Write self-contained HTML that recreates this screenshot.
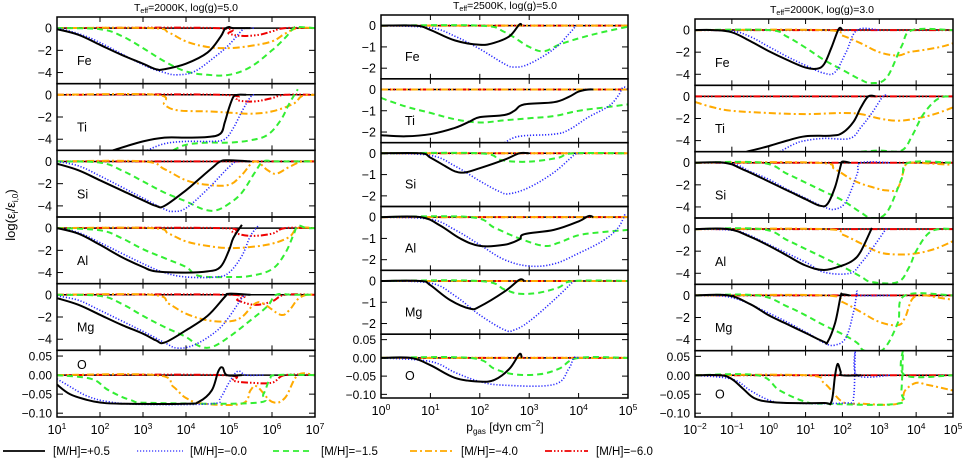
<!DOCTYPE html>
<html><head><meta charset="utf-8"><style>
html,body{margin:0;padding:0;background:#fff}
svg{display:block;font-family:"Liberation Sans",sans-serif}
</style></head><body>
<svg id="chart" width="963" height="458" viewBox="0 0 963 458" xmlns="http://www.w3.org/2000/svg"></svg>
<script>
// ---- data: [log10 p_gas, log(eps/eps0)] ----
const elements = ["Fe","Ti","Si","Al","Mg","O"];
const seriesLabels = ["[M/H]=+0.5","[M/H]=\u22120.0","[M/H]=\u22121.5","[M/H]=\u22124.0","[M/H]=\u22126.0"];
const col1Title = "2000K|5.0", col2Title = "2500K|5.0", col3Title = "2000K|3.0";
const col1XTicks = [1,2,3,4,5,6,7];
const col2XTicks = [0,1,2,3,4,5];
const col3XTicks = [-2,-1,0,1,2,3,4,5];
const yTicksWide = [0,-2,-4];
const yTicksNarrow = [0,-1,-2];
const yTicksO = [0.05,0.00,-0.05,-0.10];

// column 1: Teff=2000K logg=5.0
const c1_Fe_0=[[1,-0.1],[1.5,-0.6],[2,-1.5],[2.5,-2.4],[3,-3.2],[3.3,-3.7],[3.5,-3.7],[4,-3.2],[4.5,-2.2],[4.8,-0.8],[4.9,-0.1],[5,0.1],[5.1,0],[5.5,0]];
const c1_Fe_1=[[1,0],[1.5,-0.5],[2,-1.3],[3,-3.3],[3.5,-4.0],[3.8,-4.2],[4.2,-3.9],[4.7,-2.5],[5,-1.5],[5.3,-0.2],[5.4,0],[5.6,0]];
const c1_Fe_2=[[1,0],[2,-0.1],[2.5,-0.7],[3,-1.8],[3.5,-3.0],[4,-3.9],[4.5,-4.2],[5,-4.2],[5.5,-3.5],[6,-2.0],[6.3,-0.9],[6.5,0],[6.6,0.1],[7,0]];
const c1_Fe_3=[[1,0],[3.2,0],[3.6,-0.4],[4,-1.2],[4.5,-1.7],[5,-1.8],[5.5,-1.6],[6,-1.2],[6.3,-0.5],[6.6,0],[7,0]];
const c1_Fe_4=[[1,0],[4.7,0],[5,-0.5],[5.3,-0.7],[5.7,-0.6],[6,-0.3],[6.3,0],[7,0]];
const c1_Ti_0=[[2.3,-5],[3,-4.2],[3.5,-3.85],[4,-3.85],[4.5,-3.8],[4.8,-3.5],[4.9,-2.5],[5,-1.2],[5.1,-0.2],[5.2,0],[5.4,0]];
const c1_Ti_1=[[3.1,-5],[3.5,-4.4],[4,-4.2],[4.6,-4.2],[4.9,-4.0],[5.1,-3.0],[5.3,-1.5],[5.5,-0.2],[5.6,0]];
const c1_Ti_2=[[3.7,-5],[4,-4.5],[4.5,-4.3],[5,-4.3],[5.5,-4.1],[5.9,-3.6],[6.2,-2.3],[6.4,-0.8],[6.6,0.5]];
const c1_Ti_3=[[1,0],[3.3,0],[3.5,-0.9],[3.8,-1.4],[4.5,-1.5],[5,-1.6],[5.5,-1.7],[6,-1.5],[6.5,-0.8],[6.7,-0.1],[7,0]];
const c1_Ti_4=[[1,0],[4.8,0],[5.2,-0.5],[5.6,-0.6],[6,-0.3],[6.3,0],[7,0]];
const c1_Si_0=[[1,-0.2],[1.5,-0.8],[2,-1.7],[2.5,-2.6],[3,-3.5],[3.3,-4.0],[3.5,-4.0],[4,-2.6],[4.3,-1.6],[4.6,-0.6],[4.8,0],[5,0.1],[5.5,0]];
const c1_Si_1=[[1,0],[1.5,-0.4],[2,-1.3],[3,-3.3],[3.5,-4.3],[3.7,-4.5],[4,-4.2],[4.5,-2.5],[5,-0.5],[5.2,0],[5.5,0]];
const c1_Si_2=[[1,0],[2,-0.1],[2.5,-0.8],[3,-1.8],[3.5,-2.8],[4,-3.6],[4.4,-4.3],[4.7,-4.4],[5,-3.8],[5.3,-2.8],[5.6,-1.0],[5.8,0],[6.1,0],[7,0]];
const c1_Si_3=[[1,0],[3,0],[3.5,-0.7],[4,-1.7],[4.5,-2.1],[5,-2.1],[5.3,-1.2],[5.6,0],[5.9,-0.8],[6.1,-1.1],[6.4,-0.5],[6.7,0],[7,0]];
const c1_Si_4=[[1,0],[7,0]];
const c1_Al_0=[[1,0],[1.5,-0.5],[2,-1.5],[2.5,-2.6],[3,-3.5],[3.3,-3.9],[4,-4.0],[4.5,-3.9],[4.8,-3.5],[5,-2.0],[5.1,-0.9],[5.3,0.3]];
const c1_Al_1=[[1,0],[1.5,-0.4],[2,-1.3],[3,-3.2],[3.5,-4.0],[4,-4.4],[4.7,-4.4],[5,-4.0],[5.3,-2.5],[5.5,-0.7],[5.7,0.3]];
const c1_Al_2=[[1,0],[2,-0.2],[2.5,-0.9],[3,-1.9],[3.5,-2.7],[4,-3.5],[4.3,-4.3],[5,-4.4],[5.5,-4.3],[6,-3.7],[6.3,-2.3],[6.5,-0.6],[6.6,0.2],[6.8,0],[7,0]];
const c1_Al_3=[[1,0],[3.2,0],[3.6,-0.5],[4,-1.2],[4.5,-1.6],[5,-1.8],[5.5,-1.7],[6,-1.4],[6.4,-0.8],[6.6,0],[7,0]];
const c1_Al_4=[[1,0],[4.8,0],[5.1,-0.4],[5.5,-0.7],[6,-0.5],[6.3,0],[7,0]];
const c1_Mg_0=[[1,-0.3],[1.5,-0.9],[2,-1.8],[2.5,-2.7],[3,-3.5],[3.3,-4.1],[3.5,-4.3],[4,-3.2],[4.5,-1.9],[4.9,-0.2],[5,0.1],[5.5,0]];
const c1_Mg_1=[[1,-0.1],[1.5,-0.5],[2,-1.4],[3,-3.3],[3.5,-4.3],[3.8,-4.8],[4.2,-4.5],[4.7,-3.3],[5,-2],[5.3,-0.3],[5.4,0],[5.5,0]];
const c1_Mg_2=[[1,0],[2,-0.1],[2.5,-0.8],[3,-1.9],[3.5,-2.9],[4,-3.8],[4.3,-4.6],[4.6,-4.7],[5,-3.8],[5.5,-2.3],[5.9,-1.0],[6.1,0],[6.5,0],[7,0]];
const c1_Mg_3=[[1,0],[3.2,0],[3.6,-0.8],[4,-1.7],[4.5,-2.3],[5,-2.4],[5.3,-2.0],[5.6,-0.8],[5.8,-0.8],[6.2,-1.8],[6.4,-1.4],[6.6,-0.4],[6.8,0],[7,0]];
const c1_Mg_4=[[1,0],[5,0],[5.2,-0.5],[5.6,-0.9],[6,-0.6],[6.3,0],[7,0]];
const c1_O_0=[[1,-0.025],[1.3,-0.05],[1.7,-0.065],[2,-0.072],[2.5,-0.075],[4,-0.075],[4.3,-0.07],[4.6,-0.04],[4.75,0.01],[4.85,0.02],[4.95,0],[5.3,0]];
const c1_O_1=[[1,-0.01],[1.3,-0.03],[1.7,-0.055],[2.2,-0.07],[3,-0.077],[4.6,-0.075],[4.8,-0.06],[5,-0.02],[5.2,0.01],[5.4,0],[5.8,0]];
const c1_O_2=[[1,0],[1.8,-0.01],[2.2,-0.04],[2.7,-0.065],[3.2,-0.073],[5.6,-0.073],[5.8,-0.05],[5.95,-0.01],[6.1,0],[7,0]];
const c1_O_3=[[1,0],[3.3,0],[3.7,-0.03],[4,-0.06],[4.4,-0.075],[5.3,-0.075],[5.5,-0.04],[5.65,-0.03],[6,-0.07],[6.3,-0.06],[6.6,0],[7,0]];
const c1_O_4=[[1,0],[4.8,0],[5.1,-0.015],[5.5,-0.02],[6,-0.02],[6.3,0],[7,0]];

// column 2: Teff=2500K logg=5.0
const c2_Fe_0=[[0,0],[0.7,0],[1,-0.2],[1.5,-0.7],[2,-0.9],[2.3,-0.8],[2.6,-0.5],[2.8,0.05],[2.85,0]];
const c2_Fe_1=[[0,0],[1,-0.1],[1.5,-0.5],[2,-1.1],[2.5,-1.8],[2.7,-1.95],[3,-1.8],[3.5,-1.1],[3.8,-0.4],[3.95,0]];
const c2_Fe_2=[[0,0],[2,0],[2.5,-0.3],[3,-1.0],[3.3,-1.2],[3.6,-0.9],[4,-0.6],[4.5,-0.3],[5,-0.05]];
const c2_Ti_0=[[0,-2.15],[0.5,-2.2],[1,-2.1],[1.5,-1.8],[1.8,-1.5],[2,-1.3],[2.5,-1.2],[2.7,-1.0],[2.9,-0.7],[3.5,-0.6],[3.8,-0.35],[4,-0.1],[4.2,0],[4.3,0]];
const c2_Ti_1=[[2.5,-2.5],[2.8,-2.2],[3.5,-2.1],[3.8,-1.9],[4.2,-1.3],[4.6,-0.8],[4.8,-0.3],[4.9,0.1],[5,0]];
const c2_Ti_2=[[0,-0.4],[0.5,-0.8],[1,-1.1],[1.5,-1.4],[2,-1.55],[2.5,-1.45],[3,-1.35],[3.5,-1.25],[4,-1.0],[4.5,-0.85],[5,-0.7]];
const c2_Si_0=[[0,0],[0.8,0],[1,-0.2],[1.3,-0.6],[1.5,-0.85],[1.7,-0.9],[2,-0.7],[2.5,-0.3],[2.8,0],[3,0]];
const c2_Si_1=[[0,0],[1,-0.1],[1.5,-0.6],[2,-1.3],[2.4,-1.8],[2.6,-1.9],[3,-1.6],[3.5,-0.9],[3.9,-0.1],[4,0]];
const c2_Si_2=[[0,0],[2,0],[2.4,-0.3],[2.8,-0.4],[3.2,-0.35],[3.6,-0.2],[3.9,0],[5,0]];
const c2_Al_0=[[0,0],[0.8,0],[1.2,-0.4],[1.6,-1.0],[2,-1.35],[2.5,-1.3],[2.8,-1.05],[2.9,-0.8],[3.5,-0.6],[4,-0.2],[4.2,0.05],[4.3,0]];
const c2_Al_1=[[0,0],[1,-0.1],[1.5,-0.6],[2,-1.3],[2.5,-2.0],[3,-2.3],[3.5,-2.2],[4,-1.7],[4.5,-1.1],[4.8,-0.5],[4.95,0.2]];
const c2_Al_2=[[0,0],[1.8,0],[2.3,-0.5],[2.8,-1.0],[3.3,-1.35],[3.6,-1.2],[4,-0.85],[4.5,-0.7],[5,-0.6]];
const c2_Mg_0=[[0,0],[0.8,0],[1,-0.2],[1.4,-0.9],[1.8,-1.3],[2,-1.2],[2.5,-0.5],[2.8,0.05],[2.9,0]];
const c2_Mg_1=[[0,0],[1,-0.1],[1.5,-0.7],[2,-1.6],[2.5,-2.3],[2.7,-2.3],[3,-1.9],[3.5,-0.9],[3.9,0]];
const c2_Mg_2=[[0,0],[2,0],[2.5,-0.4],[2.8,-0.6],[3.2,-0.55],[3.6,-0.3],[3.9,0],[5,0]];
const c2_O_0=[[0,0],[0.6,0],[1,-0.02],[1.5,-0.055],[2,-0.065],[2.3,-0.06],[2.6,-0.03],[2.8,0.01],[2.85,0]];
const c2_O_1=[[0,0],[1,-0.01],[1.5,-0.04],[2,-0.065],[2.5,-0.075],[3.5,-0.073],[3.8,-0.03],[3.9,0],[4,0]];
const c2_O_2=[[0,0],[1.8,0],[2.3,-0.03],[2.7,-0.045],[3.2,-0.045],[3.6,-0.03],[4,0],[5,0]];
const c2_flat=[[0,0],[5,0]];

// column 3: Teff=2000K logg=3.0
const c3_Fe_0=[[-2,0],[-1.5,0],[-1,-0.2],[-0.5,-1.0],[0,-1.9],[0.5,-2.7],[1,-3.4],[1.3,-3.5],[1.5,-3.1],[1.7,-1.6],[1.9,0.1],[2,0]];
const c3_Fe_1=[[-2,0],[-1,-0.1],[-0.5,-0.6],[0,-1.5],[0.5,-2.4],[1,-3.2],[1.5,-3.9],[1.8,-3.8],[2.1,-2.0],[2.4,0],[3,0]];
const c3_Fe_2=[[-2,0],[0,0],[0.5,-0.6],[1,-1.6],[1.5,-2.7],[2,-3.6],[2.5,-4.5],[2.8,-4.8],[3.2,-4.3],[3.6,-1.5],[3.9,0],[5,0]];
const c3_Fe_3=[[-2,0],[1.5,0],[2,-0.5],[2.5,-1.2],[3,-2.0],[3.5,-2.3],[3.8,-2.0],[4.2,-1.8],[4.7,-1.5],[5,-1.2]];
const c3_Ti_0=[[-0.6,-5],[0,-4.5],[0.5,-4.0],[1,-3.6],[1.7,-3.55],[2,-3.3],[2.3,-2.3],[2.5,-1.0],[2.7,0],[2.9,0]];
const c3_Ti_1=[[0.3,-5],[0.7,-4.3],[1,-4.0],[1.5,-3.8],[2.2,-3.8],[2.5,-2.8],[2.8,-1.5],[3.1,0],[3.2,0]];
const c3_Ti_2=[[2.5,-5],[3,-4.9],[3.6,-4.9],[3.9,-3.5],[4.2,-1.6],[4.6,-0.2],[5,0]];
const c3_Ti_3=[[-2,-0.5],[-1.5,-1.0],[-1,-1.3],[0,-1.5],[1,-1.6],[2,-1.5],[2.5,-1.6],[3,-2.0],[3.5,-2.2],[4,-2.0],[4.5,-1.6],[5,-1.0]];
const c3_Si_0=[[-2,0],[-1.2,0],[-0.7,-0.6],[0,-1.7],[0.5,-2.5],[1,-3.3],[1.4,-3.9],[1.6,-3.7],[1.8,-2.2],[1.95,-0.3],[2,0.1],[2.2,0]];
const c3_Si_1=[[-2,0],[-1,-0.1],[-0.5,-0.8],[0,-1.5],[0.5,-2.4],[1,-3.2],[1.5,-4],[1.8,-4.2],[2.1,-3.5],[2.4,-1],[2.5,0],[3.3,0]];
const c3_Si_2=[[-2,0],[-0.2,0],[0.5,-1.0],[1,-1.8],[1.5,-2.6],[2,-3.4],[2.5,-4.5],[2.8,-5],[3.2,-4.5],[3.6,-1.5],[3.8,0],[5,0]];
const c3_Si_3=[[-2,0],[1.3,0],[1.8,-0.6],[2.3,-1.6],[2.8,-2.2],[3.2,-2.5],[3.5,-2.3],[3.7,-0.3],[3.8,0],[4.5,-0.1],[5,-0.2]];
const c3_Al_0=[[-2,0],[-1.1,0],[-0.5,-0.7],[0,-1.5],[0.5,-2.4],[1,-3.3],[1.5,-3.7],[2,-3.3],[2.3,-2.8],[2.5,-2.0],[2.8,0.1]];
const c3_Al_1=[[-2,0],[-1,-0.1],[-0.5,-0.6],[0,-1.4],[1,-3.0],[1.5,-3.9],[2.2,-4.0],[2.5,-3.1],[2.8,-1.8],[3.2,0.1]];
const c3_Al_2=[[-2,0],[-0.2,0],[0.5,-1.0],[1,-1.8],[1.5,-2.6],[2,-3.4],[2.5,-4.3],[2.8,-4.8],[3.5,-4.8],[3.8,-3.5],[4,-2.0],[4.3,-0.5],[4.6,0],[5,0]];
const c3_Al_3=[[-2,0],[1.5,0],[2,-0.5],[2.5,-1.3],[3,-2.1],[3.5,-2.3],[4,-2.2],[4.5,-1.8],[5,-1.1]];
const c3_Mg_0=[[-2,0],[-1.1,0],[-0.5,-0.8],[0,-1.8],[0.5,-2.6],[1,-3.4],[1.5,-4.2],[1.6,-4.2],[1.8,-2.5],[1.95,-0.1],[2,0.1],[2.2,0]];
const c3_Mg_1=[[-2,0],[-1,-0.2],[0,-1.6],[1,-3.3],[1.5,-4.3],[1.8,-4.5],[2.1,-3.8],[2.3,-1.5],[2.4,0.3],[2.45,0],[3.3,0]];
const c3_Mg_2=[[-2,0],[-0.3,0],[0.5,-1.0],[1,-1.8],[1.5,-2.7],[2,-3.5],[2.4,-4.3],[2.6,-5],[3.1,-4.9],[3.5,-2.5],[3.7,0],[5,0]];
const c3_Mg_3=[[-2,0],[1.5,0],[2,-0.6],[2.5,-1.5],[3,-2.4],[3.5,-2.7],[3.7,-2.0],[3.9,-0.3],[4.2,0],[4.6,-0.2],[5,-0.4]];
const c3_O_0=[[-2,0],[-1.3,0],[-1,-0.01],[-0.7,-0.035],[-0.4,-0.06],[0,-0.07],[0.5,-0.073],[1.5,-0.073],[1.7,-0.07],[1.8,0],[1.87,0.03],[1.95,0.01],[2,0],[2.5,0]];
const c3_O_1=[[-2,0],[-1,-0.01],[-0.5,-0.04],[0,-0.065],[0.5,-0.073],[2.1,-0.073],[2.3,-0.06],[2.35,0.065],[2.4,0],[3.3,0]];
const c3_O_2=[[-2,0],[-0.3,0],[0.3,-0.04],[1,-0.07],[1.5,-0.075],[3.5,-0.075],[3.6,-0.04],[3.65,0.065],[3.7,0],[5,0]];
const c3_O_3=[[-2,0],[1,0],[1.5,-0.02],[2,-0.07],[2.5,-0.075],[3.5,-0.075],[3.7,-0.04],[4,-0.02],[4.3,-0.025],[5,-0.04]];
const c3_flat=[[-2,0],[5,0]];

// ---- rendering ----
const NS="http://www.w3.org/2000/svg";
const svg=document.getElementById('chart');
const styles=[
 {c:"#000",w:2,d:""},
 {c:"#2a2aff",w:1.6,d:"1.2 1.8"},
 {c:"#33ee33",w:2,d:"6 4"},
 {c:"#ffaa00",w:2,d:"7 3 2 3"},
 {c:"#ee0000",w:2,d:"7 2 1.5 2 1.5 2 1.5 2"}
];
function mk(tag,attrs,parent){const e=document.createElementNS(NS,tag);for(const k in attrs)e.setAttribute(k,attrs[k]);(parent||svg).appendChild(e);return e;}
function smoothPath(P){
 if(P.length<3) return 'M'+P.map(p=>p[0].toFixed(1)+','+p[1].toFixed(1)).join(' L');
 let d='M'+P[0][0].toFixed(1)+','+P[0][1].toFixed(1);
 for(let i=0;i<P.length-1;i++){
  const p0=P[Math.max(0,i-1)],p1=P[i],p2=P[i+1],p3=P[Math.min(P.length-1,i+2)];
  const t=0.18;
  const c1=[p1[0]+(p2[0]-p0[0])*t,p1[1]+(p2[1]-p0[1])*t];
  const c2=[p2[0]-(p3[0]-p1[0])*t,p2[1]-(p3[1]-p1[1])*t];
  d+=' C'+c1[0].toFixed(1)+','+c1[1].toFixed(1)+' '+c2[0].toFixed(1)+','+c2[1].toFixed(1)+' '+p2[0].toFixed(1)+','+p2[1].toFixed(1);
 }
 return d;
}

const cols=[
 {left:57,right:315,top:17,bottom:417,xmin:1,xmax:7,xt:col1XTicks,yr:[-5,1],yt:yTicksWide,title:col1Title,tx:186,ty:11,
  data:{Fe:[c1_Fe_0,c1_Fe_1,c1_Fe_2,c1_Fe_3,c1_Fe_4],Ti:[c1_Ti_0,c1_Ti_1,c1_Ti_2,c1_Ti_3,c1_Ti_4],Si:[c1_Si_0,c1_Si_1,c1_Si_2,c1_Si_3,c1_Si_4],Al:[c1_Al_0,c1_Al_1,c1_Al_2,c1_Al_3,c1_Al_4],Mg:[c1_Mg_0,c1_Mg_1,c1_Mg_2,c1_Mg_3,c1_Mg_4],O:[c1_O_0,c1_O_1,c1_O_2,c1_O_3,c1_O_4]}},
 {left:381,right:628,top:15,bottom:398,xmin:0,xmax:5,xt:col2XTicks,yr:[-2.5,0.5],yt:yTicksNarrow,title:col2Title,tx:505,ty:9,
  data:{Fe:[c2_Fe_0,c2_Fe_1,c2_Fe_2,c2_flat,c2_flat],Ti:[c2_Ti_0,c2_Ti_1,c2_Ti_2,c2_flat,c2_flat],Si:[c2_Si_0,c2_Si_1,c2_Si_2,c2_flat,c2_flat],Al:[c2_Al_0,c2_Al_1,c2_Al_2,c2_flat,c2_flat],Mg:[c2_Mg_0,c2_Mg_1,c2_Mg_2,c2_flat,c2_flat],O:[c2_O_0,c2_O_1,c2_O_2,c2_flat,c2_flat]}},
 {left:695,right:953,top:19,bottom:417,xmin:-2,xmax:5,xt:col3XTicks,yr:[-5,1],yt:yTicksWide,title:col3Title,tx:822,ty:13,
  data:{Fe:[c3_Fe_0,c3_Fe_1,c3_Fe_2,c3_Fe_3,c3_flat],Ti:[c3_Ti_0,c3_Ti_1,c3_Ti_2,c3_Ti_3,c3_flat],Si:[c3_Si_0,c3_Si_1,c3_Si_2,c3_Si_3,c3_flat],Al:[c3_Al_0,c3_Al_1,c3_Al_2,c3_Al_3,c3_flat],Mg:[c3_Mg_0,c3_Mg_1,c3_Mg_2,c3_Mg_3,c3_flat],O:[c3_O_0,c3_O_1,c3_O_2,c3_O_3,c3_flat]}}
];
const oRange=[-0.11,0.065];
const defs=mk('defs',{});

cols.forEach((col,ci)=>{
 const g=mk('g',{});
 
 
 const ph=(col.bottom-col.top)/6;
 const xs=v=>col.left+(v-col.xmin)/(col.xmax-col.xmin)*(col.right-col.left);
 const parts=col.title.split('|');
 const t=mk('text',{x:col.tx,y:col.ty,'text-anchor':'middle','font-size':'10.5'},g);
 
 
 t.innerHTML='T<tspan font-size="7" dy="2">eff</tspan><tspan dy="-2">='+parts[0]+', log(g)='+parts[1]+'</tspan>';
 elements.forEach((el,pi)=>{
  const top=col.top+pi*ph, bot=top+ph;
  const yr=el==="O"?oRange:col.yr;
  const yt=el==="O"?yTicksO:col.yt;
  const ys=v=>bot-(v-yr[0])/(yr[1]-yr[0])*ph;
  const pg=mk('g',{},g);
  
  
  const cid='clip'+ci+'_'+pi;
  const cp=mk('clipPath',{id:cid},defs);
  mk('rect',{x:col.left,y:top,width:col.right-col.left,height:ph},cp);
  yt.forEach(v=>{
   const y=ys(v);
   mk('line',{x1:col.left,x2:col.left+6,y1:y,y2:y,stroke:'#000','stroke-width':1},pg);
   mk('line',{x1:col.right-6,x2:col.right,y1:y,y2:y,stroke:'#000','stroke-width':1},pg);
   const lab=mk('text',{x:col.left-5,y:y+4.5,'text-anchor':'end','font-size':el==="O"?'12':'12.5'},pg);
   
   
   lab.textContent=(el==="O"?v.toFixed(2):String(v)).replace('-','\u2212');
  });
  col.xt.forEach(v=>{
   const x=xs(v);
   mk('line',{x1:x,x2:x,y1:bot,y2:bot-5,stroke:'#000','stroke-width':1},pg);
   mk('line',{x1:x,x2:x,y1:top,y2:top+5,stroke:'#000','stroke-width':1},pg);
  });
  mk('line',{x1:col.left,x2:col.right,y1:ys(0),y2:ys(0),stroke:'#000','stroke-width':1.5},pg);
  const cg=mk('g',{'clip-path':'url(#'+cid+')'},pg);
  const series=col.data[el];
  for(let si=series.length-1;si>=0;si--){
   const arr=series[si];
   const P=arr.map(p=>[xs(p[0]),ys(p[1])]);
   const s=styles[si];
   const pl=mk('path',{d:smoothPath(P),fill:'none',stroke:s.c,'stroke-width':s.w,'stroke-dasharray':s.d,'stroke-linejoin':'round'},cg);
   
   
  }
  mk('rect',{x:col.left,y:top,width:col.right-col.left,height:ph,fill:'none',stroke:'#000','stroke-width':1.5},pg);
  const labY=(el==="O"&&ci===0)?top+ph*0.28:top+ph*0.72;
  const el_lab=mk('text',{x:col.left+(ci===1?24:20),y:labY,'font-size':'12.5'},pg);
  
  
  el_lab.textContent=el;
 });
 col.xt.forEach(v=>{
  const t=mk('text',{x:xs(v),y:col.bottom+17,'text-anchor':'middle','font-size':'12.5'},g);
  
  
  t.innerHTML='10<tspan font-size="8.5" dy="-5">'+String(v).replace('-','\u2212')+'</tspan>';
 });
});

const yt=mk('text',{x:0,y:0,'font-size':'13','text-anchor':'middle',transform:'translate(15,215) rotate(-90)'});


yt.innerHTML='log(\u03b5<tspan font-size="8" dy="3">i</tspan><tspan dy="-3">/\u03b5</tspan><tspan font-size="8" dy="3">i,0</tspan><tspan dy="-3">)</tspan>';
const xt=mk('text',{x:505,y:431,'font-size':'12','text-anchor':'middle'});


xt.innerHTML='p<tspan font-size="8" dy="3">gas</tspan><tspan dy="-3"> [dyn cm</tspan><tspan font-size="8" dy="-5">\u22122</tspan><tspan dy="5">]</tspan>';

const legX=[[3,45,53],[137,183,190],[273,313,321],[410,452,461],[545,588,596]];
seriesLabels.forEach((lab,i)=>{
 const g=mk('g',{});
 
 
 const s=styles[i];
 mk('line',{x1:legX[i][0],x2:legX[i][1],y1:451,y2:451,stroke:s.c,'stroke-width':s.w-0.3,'stroke-dasharray':s.d},g);
 const t=mk('text',{x:legX[i][2],y:455,'font-size':'11.5'},g);
 t.textContent=lab;
});
</script>
</body></html>
